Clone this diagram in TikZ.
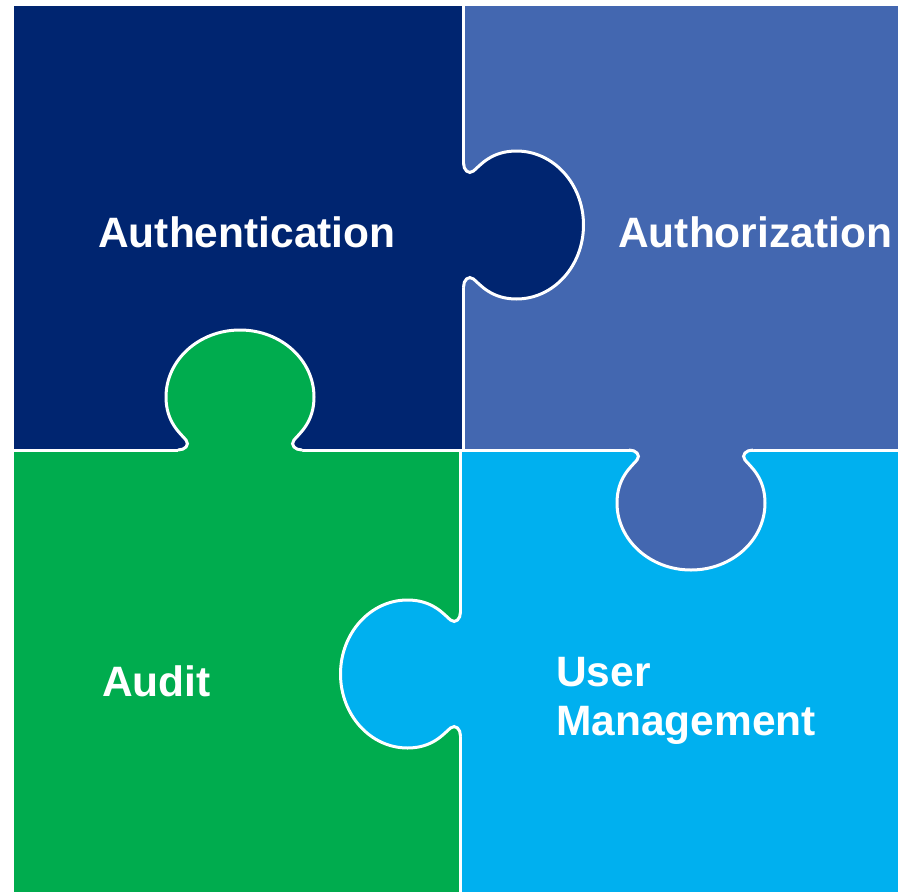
\documentclass[tikz,border=0pt]{standalone}
\usepackage{fontspec}
\setmainfont{Liberation Sans}

\definecolor{authncol}{RGB}{0,37,112}
\definecolor{authzcol}{RGB}{67,103,176}
\definecolor{auditcol}{RGB}{0,172,78}
\definecolor{userscol}{RGB}{0,176,239}

\tikzset{
  piecelabel/.style={text=white, font=\bfseries\fontsize{42.5}{50}\selectfont,
                     anchor=base west, inner sep=0pt},
  seam/.style={draw=white, line width=3pt},
}

% One puzzle tab in local coordinates: base on u=0, pointing along +u.
% #1 = colour of the piece that owns the tab, #2 = placement options.
\newcommand\puzzletab[2]{%
  \begin{scope}[#2]
    \fill[#1] (-3,-62) -- (0,-62)
      .. controls (0,-55) and (5,-50) .. (10,-54)
      .. controls (17,-60) and (28,-74) .. (53,-74)
      .. controls (90,-74) and (120,-41) .. (120,0)
      .. controls (120,41) and (90,74) .. (53,74)
      .. controls (28,74) and (17,60) .. (10,54)
      .. controls (5,50) and (0,55) .. (0,62) -- (-3,62) -- cycle;
    \draw[seam] (0,-62)
      .. controls (0,-55) and (5,-50) .. (10,-54)
      .. controls (17,-60) and (28,-74) .. (53,-74)
      .. controls (90,-74) and (120,-41) .. (120,0)
      .. controls (120,41) and (90,74) .. (53,74)
      .. controls (28,74) and (17,60) .. (10,54)
      .. controls (5,50) and (0,55) .. (0,62);
  \end{scope}}

\begin{document}
\begin{tikzpicture}[x=1pt,y=-1pt]
  \useasboundingbox (0,0) rectangle (898,892);

  % the four pieces
  \fill[authncol] (14,6) rectangle (463.5,450);
  \fill[authzcol] (463.5,6) rectangle (898,450);
  \fill[auditcol] (14,450) rectangle (460.5,892);
  \fill[userscol] (460.5,450) rectangle (898,892);

  % straight seams between the pieces
  \draw[seam] (463.5,6) -- (463.5,450);
  \draw[seam] (460.5,450) -- (460.5,892);
  \draw[seam] (14,450) -- (898,450);

  % interlocking tabs
  \puzzletab{authncol}{shift={(463.5,225)}, x={(1pt,0pt)}, y={(0pt,-1pt)}}
  \puzzletab{auditcol}{shift={(240,450)}, x={(0pt,1pt)}, y={(1pt,0pt)}}
  \puzzletab{authzcol}{shift={(691,450)}, x={(0pt,-1pt)}, y={(1pt,0pt)}}
  \puzzletab{userscol}{shift={(460.5,674)}, x={(-1pt,0pt)}, y={(0pt,1pt)}}

  % labels
  \node[piecelabel] (authn) at (98,247) {Authentication};
  \node[piecelabel] (authz) at (618,247) {Authorization};
  \node[piecelabel] (audit) at (102,696) {Audit};
  \node[piecelabel] (users1) at (556,686) {User};
  \node[piecelabel] (users2) at (556,735) {Management};
\end{tikzpicture}
\end{document}
